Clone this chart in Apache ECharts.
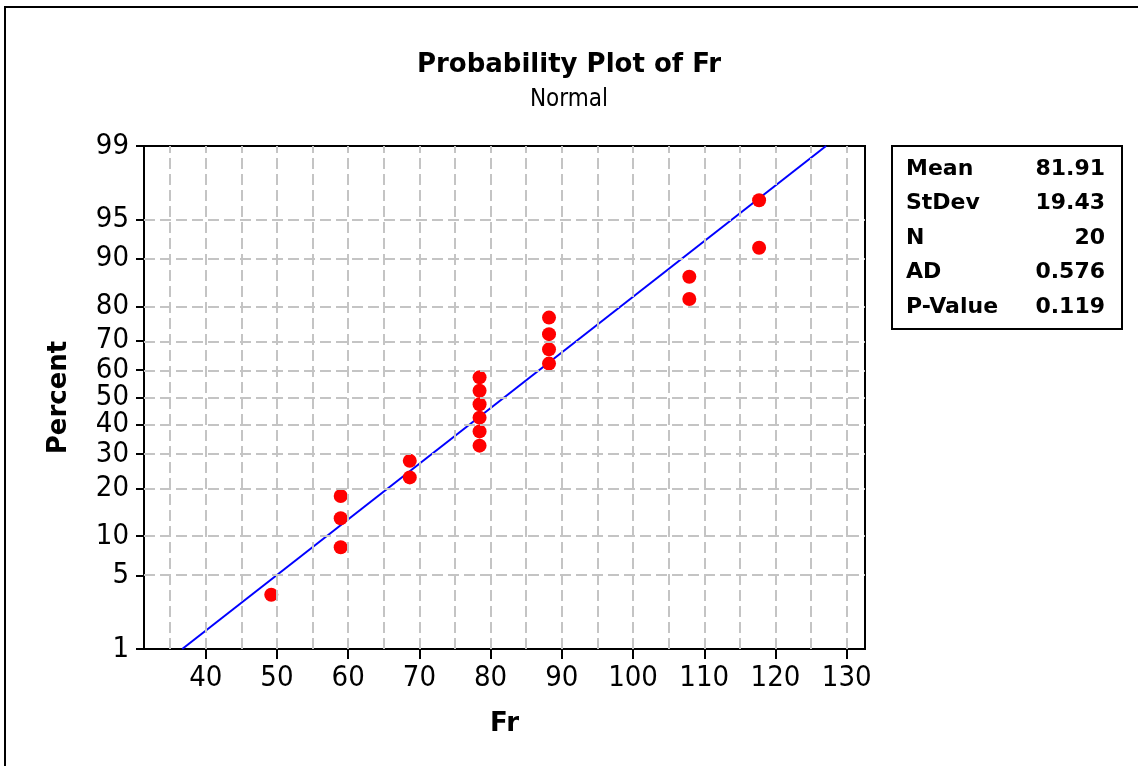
<!DOCTYPE html>
<html>
<head>
<meta charset="utf-8">
<script src="https://cdn.jsdelivr.net/npm/echarts@6/dist/echarts.min.js"></script>
<style>
html,body{margin:0;padding:0;background:#fff;}
#chart{width:1138px;height:766px;}
</style>
</head>
<body>
<div id="chart"></div>
<script>
// ---- data ----
const frValues = [49.2, 58.95, 58.95, 58.95, 68.65, 68.65, 78.45, 78.45, 78.45, 78.45, 78.45, 78.45, 88.2, 88.2, 88.2, 88.2, 107.9, 107.9, 117.7, 117.7];
const percentValues = [3.4, 8.3, 13.2, 18.1, 23.0, 27.9, 32.8, 37.7, 42.6, 47.5, 52.5, 57.4, 62.3, 67.2, 72.1, 77.0, 81.9, 86.8, 91.7, 96.6];
const fitX = [36.7, 127.1];
const fitPercent = [1, 99];
const percentTicks = [1, 5, 10, 20, 30, 40, 50, 60, 70, 80, 90, 95, 99];
const xTicks = [40, 50, 60, 70, 80, 90, 100, 110, 120, 130];
const xGrid = [35, 40, 45, 50, 55, 60, 65, 70, 75, 80, 85, 90, 95, 100, 105, 110, 115, 120, 125, 130];
const statLabels = ['Mean', 'StDev', 'N', 'AD', 'P-Value'];
const statValues = ['81.91', '19.43', '20', '0.576', '0.119'];
const titleText = 'Probability Plot of Fr';
const subtitleText = 'Normal';
const xName = 'Fr';
const yName = 'Percent';

// inverse standard normal CDF (Acklam) – probability-scale transform
function normInv(p) {
  const a = [-3.969683028665376e+01, 2.209460984245205e+02, -2.759285104469687e+02, 1.383577518672690e+02, -3.066479806614716e+01, 2.506628277459239e+00];
  const b = [-5.447609879822406e+01, 1.615858368580409e+02, -1.556989798598866e+02, 6.680131188771972e+01, -1.328068155288572e+01];
  const c = [-7.784894002430293e-03, -3.223964580411365e-01, -2.400758277161838e+00, -2.549732539343734e+00, 4.374664141464968e+00, 2.938163982698783e+00];
  const d = [7.784695709041462e-03, 3.224671290700398e-01, 2.445134137142996e+00, 3.754408661907416e+00];
  const pl = 0.02425, ph = 1 - pl;
  let q, r;
  if (p < pl) {
    q = Math.sqrt(-2 * Math.log(p));
    return (((((c[0]*q+c[1])*q+c[2])*q+c[3])*q+c[4])*q+c[5]) / ((((d[0]*q+d[1])*q+d[2])*q+d[3])*q+1);
  } else if (p <= ph) {
    q = p - 0.5; r = q * q;
    return (((((a[0]*r+a[1])*r+a[2])*r+a[3])*r+a[4])*r+a[5])*q / (((((b[0]*r+b[1])*r+b[2])*r+b[3])*r+b[4])*r+1);
  } else {
    q = Math.sqrt(-2 * Math.log(1 - p));
    return -(((((c[0]*q+c[1])*q+c[2])*q+c[3])*q+c[4])*q+c[5]) / ((((d[0]*q+d[1])*q+d[2])*q+d[3])*q+1);
  }
}
const z = pct => normInv(pct / 100);
const zTicks = percentTicks.map(z);
const yMin = z(percentTicks[0]);
const yMax = z(percentTicks[percentTicks.length - 1]);

const FONT = '"DejaVu Sans Condensed", "DejaVu Sans", sans-serif';
const BFONT = '"DejaVu Sans", sans-serif';

const gridLineStyle = { color: '#c4c4c4', width: 2, type: [11, 5] };
const markData = [];
xGrid.forEach(v => markData.push({ xAxis: v }));
zTicks.slice(1, -1).forEach(v => markData.push({ yAxis: v }));

const chart = echarts.init(document.getElementById('chart'), null, { renderer: 'canvas' });

function txt(x, y, text, size, weight, align, family) {
  return { type: 'text', x: x, y: y, style: { text: text, fontSize: size, fontWeight: weight, fontFamily: family || BFONT, fill: '#000', align: align, verticalAlign: 'middle' } };
}

const graphics = [
  { type: 'rect', shape: { x: 5, y: 7, width: 1150, height: 780 }, style: { fill: 'none', stroke: '#000', lineWidth: 2 }, silent: true },
  { type: 'rect', shape: { x: 892, y: 146, width: 230, height: 183 }, style: { fill: '#fff', stroke: '#000', lineWidth: 2 }, silent: true }
];
statLabels.forEach((s, i) => {
  const y = 169 + i * 34.5;
  graphics.push(txt(906, y, s, 22, 'bold', 'left'));
  graphics.push(txt(1105, y, statValues[i], 22, 'bold', 'right'));
});

const option = {
  animation: false,
  backgroundColor: '#fff',
  title: {
    text: titleText, subtext: subtitleText,
    left: 'center', top: 47, itemGap: 10,
    textStyle: { fontFamily: BFONT, fontWeight: 'bold', fontSize: 26, color: '#000' },
    subtextStyle: { fontFamily: FONT, fontWeight: 'normal', fontSize: 24, color: '#000' }
  },
  grid: { left: 144, top: 146, width: 721, height: 503, show: true, borderColor: '#000', borderWidth: 2, backgroundColor: 'transparent', containLabel: false },
  xAxis: {
    type: 'value', min: 31.33, max: 132.57,
    name: xName, nameLocation: 'middle', nameGap: 62,
    nameTextStyle: { fontFamily: BFONT, fontWeight: 'bold', fontSize: 26, color: '#000' },
    axisLine: { show: true, onZero: false, lineStyle: { color: '#000', width: 2 } },
    axisTick: { show: true, customValues: xTicks, length: 10, lineStyle: { color: '#000', width: 2 } },
    axisLabel: { customValues: xTicks, margin: 15, color: '#000', fontFamily: FONT, fontSize: 29 },
    splitLine: { show: false }
  },
  yAxis: {
    type: 'value', min: yMin, max: yMax,
    name: yName, nameLocation: 'middle', nameGap: 72,
    nameTextStyle: { fontFamily: BFONT, fontWeight: 'bold', fontSize: 26, color: '#000' },
    axisLine: { show: true, onZero: false, lineStyle: { color: '#000', width: 2 } },
    axisTick: { show: true, customValues: zTicks, length: 8, lineStyle: { color: '#000', width: 2 } },
    axisLabel: {
      customValues: zTicks, margin: 15, color: '#000', fontFamily: FONT, fontSize: 29,
      formatter: function (v) {
        let best = 0, bd = Infinity;
        zTicks.forEach((t, i) => { const d = Math.abs(t - v); if (d < bd) { bd = d; best = i; } });
        return String(percentTicks[best]);
      }
    },
    splitLine: { show: false }
  },
  series: [
    {
      type: 'line', data: [], z: 1, silent: true,
      markLine: { silent: true, symbol: ['none', 'none'], label: { show: false }, lineStyle: gridLineStyle, emphasis: { disabled: true }, data: markData }
    },
    {
      type: 'line', z: 3, silent: true, showSymbol: false, symbol: 'none',
      data: fitX.map((x, i) => [x, z(fitPercent[i])]),
      lineStyle: { color: '#0000ff', width: 2 }
    },
    {
      type: 'scatter', z: 4, symbol: 'circle', symbolSize: 14,
      itemStyle: { color: '#ff0000', opacity: 1 },
      data: frValues.map((x, i) => [x, z(percentValues[i])])
    }
  ],
  graphic: graphics
};
chart.setOption(option);
</script>
</body>
</html>
